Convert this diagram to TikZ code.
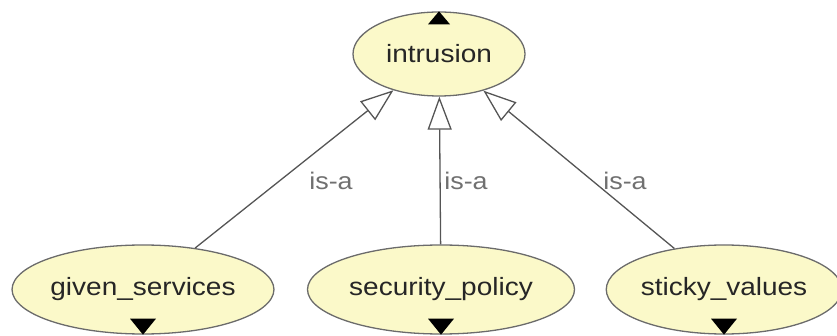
\documentclass[tikz,border=0pt]{standalone}
\usepackage{fontspec}
\setmainfont{Liberation Sans}
\usetikzlibrary{shapes.geometric,arrows.meta}
\definecolor{nodefill}{HTML}{FBF9C9}
\definecolor{nodeline}{HTML}{6B6B6B}
\definecolor{edgeline}{HTML}{555555}
\definecolor{lblgray}{HTML}{707070}
\newcommand{\widetext}[1]{\scalebox{1.12}[1]{#1}}
\begin{document}
\begin{tikzpicture}[x=1pt,y=-1pt,
  concept/.style={ellipse,draw=nodeline,line width=1.3pt,fill=nodefill,
    inner sep=0pt,text=black!85,font=\fontsize{25}{30}\selectfont},
  isa/.style={draw=edgeline,line width=1.3pt,
    -{Triangle[open,length=33pt,width=24pt,line width=1.3pt]}},
  isalbl/.style={text=lblgray,font=\fontsize{24}{28}\selectfont,inner sep=0pt},
  marker/.style={fill=black,draw=none}]
\useasboundingbox (0,0) rectangle (837,336);

% concept nodes
\node[concept,minimum width=172pt,minimum height=84pt] (intr) at (439,54) {\widetext{intrusion}};
\node[concept,minimum width=260pt,minimum height=89pt] (given) at (143,289.5) {\widetext{given\_services}};
\node[concept,minimum width=267pt,minimum height=89pt] (secp) at (441,289.5) {\widetext{security\_policy}};
\node[concept,minimum width=223pt,minimum height=89pt] (sticky) at (724,289.5) {\widetext{sticky\_values}};

% expand/collapse markers
\fill[marker] ([xshift=-11pt,yshift=-13pt]intr.north) -- ([xshift=11pt,yshift=-13pt]intr.north) -- (intr.north) -- cycle;
\fill[marker] ([xshift=-13pt,yshift=16pt]given.south) -- ([xshift=13pt,yshift=16pt]given.south) -- (given.south) -- cycle;
\fill[marker] ([xshift=-13pt,yshift=16pt]secp.south) -- ([xshift=13pt,yshift=16pt]secp.south) -- (secp.south) -- cycle;
\fill[marker] ([xshift=-13pt,yshift=16pt]sticky.south) -- ([xshift=13pt,yshift=16pt]sticky.south) -- (sticky.south) -- cycle;

% is-a relations
\draw[isa] (given) -- (intr);
\draw[isa] (secp) -- (intr);
\draw[isa] (sticky) -- (intr);

% relation labels
\node[isalbl] (lg) at (331,181) {\widetext{is-a}};
\node[isalbl] (ls) at (466,181) {\widetext{is-a}};
\node[isalbl] (lt) at (625,181) {\widetext{is-a}};
\end{tikzpicture}
\end{document}
